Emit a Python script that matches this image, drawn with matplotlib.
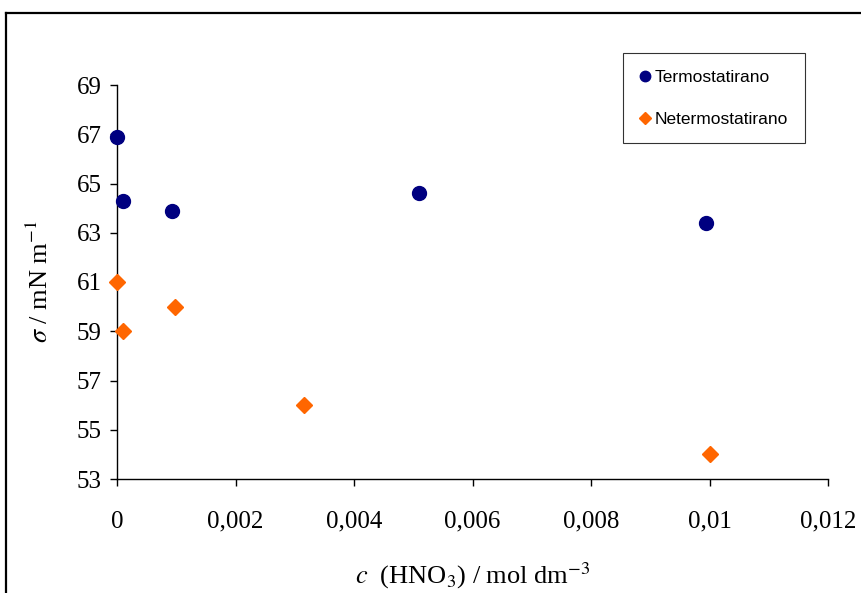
import matplotlib.pyplot as plt
from matplotlib.lines import Line2D

# podaci ocitani sa grafika
c_termo = [0.0, 0.0001, 0.00093, 0.0051, 0.00994]
sigma_termo = [66.9, 64.3, 63.9, 64.6, 63.4]

c_netermo = [0.0, 0.0001, 0.00098, 0.00316, 0.01]
sigma_netermo = [61.0, 59.0, 60.0, 56.0, 54.0]

x_ticks = [0, 0.002, 0.004, 0.006, 0.008, 0.01, 0.012]
x_tick_labels = ["0", "0,002", "0,004", "0,006", "0,008", "0,01", "0,012"]
y_ticks = [53, 55, 57, 59, 61, 63, 65, 67, 69]

plt.rcParams["font.family"] = ["Liberation Serif", "DejaVu Serif"]
plt.rcParams["mathtext.fontset"] = "stix"

fig = plt.figure(figsize=(8.61, 5.93), dpi=100)
ax = fig.add_axes([117 / 861, 1 - 479 / 593, (828 - 117) / 861, (479 - 85) / 593])
ax.set_facecolor("none")

ax.plot(c_termo, sigma_termo, linestyle="none", marker="o", markersize=10,
        color="#000080", label="Termostatirano", clip_on=False, zorder=3)
ax.plot(c_netermo, sigma_netermo, linestyle="none", marker="D", markersize=8.5,
        color="#FF6600", label="Netermostatirano", clip_on=False, zorder=3)

ax.set_xlim(0, 0.012)
ax.set_ylim(53, 69)
ax.set_xticks(x_ticks)
ax.set_xticklabels(x_tick_labels)
ax.set_yticks(y_ticks)

ax.spines["top"].set_visible(False)
ax.spines["right"].set_visible(False)
for s in ("left", "bottom"):
    ax.spines[s].set_linewidth(1.0)
    ax.spines[s].set_color("black")

ax.tick_params(axis="x", direction="out", length=5, width=1, pad=18, labelsize=18)
ax.tick_params(axis="y", direction="out", length=5, width=1, pad=6, labelsize=18)

ax.set_xlabel(r"$c$  (HNO$_3$) / mol dm$^{-3}$", fontsize=19, labelpad=20)
ax.set_ylabel(r"$\sigma$ / mN m$^{-1}$", fontsize=19, labelpad=17)

leg = ax.legend(loc="upper left", bbox_to_anchor=((623 - 117) / 711, (479 - 53) / 394),
                prop={"family": "Liberation Sans", "size": 12.5}, frameon=True,
                fancybox=False, edgecolor="black", handletextpad=0.3,
                labelspacing=1.55, borderpad=0.95, handlelength=0.6, borderaxespad=0,
                markerscale=0.75)
leg.get_frame().set_linewidth(0.8)

# okvir oko cijele slike
fig.add_artist(Line2D([6 / 861, 1], [1 - 13 / 593, 1 - 13 / 593], color="black", linewidth=1.6))
fig.add_artist(Line2D([6 / 861, 6 / 861], [0, 1 - 13 / 593], color="black", linewidth=1.6))

fig.savefig("out.png", dpi=100)
